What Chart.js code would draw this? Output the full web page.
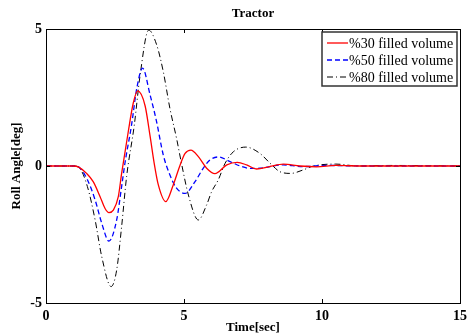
<!DOCTYPE html>
<html>
<head>
<meta charset="utf-8">
<title>Tractor</title>
<script src="https://cdn.jsdelivr.net/npm/chart.js"></script>
<style>
  html, body { margin: 0; padding: 0; background: #fff; }
  #wrap { width: 473px; height: 336px; }
</style>
</head>
<body>
<div id="wrap"><canvas id="c" width="473" height="336"></canvas></div>
<script>
// values (time in sec, roll angle in deg)
var seriesNames = ['%30 filled volume', '%50 filled volume', '%80 filled volume'];

var t30 = [0, 1.0, 1.2, 1.47, 1.71, 1.96, 2.14, 2.28, 2.44, 2.62, 2.74, 2.98, 3.16, 3.32, 3.59, 3.77, 3.93, 4.07, 4.34, 4.61, 4.86, 5.04, 5.25, 5.52, 5.82, 6.12, 6.55, 6.93, 7.27, 7.63, 8.1, 8.6, 9.2, 9.8, 10.5, 11.5, 15];
var y30 = [0, 0, -0.05, -0.27, -0.57, -1.12, -1.55, -1.70, -1.61, -1.12, -0.27, 1.25, 2.29, 2.74, 2.2, 1.1, 0.04, -0.69, -1.30, -0.69, 0.04, 0.46, 0.58, 0.34, -0.08, -0.28, 0.04, 0.13, 0.04, -0.11, -0.02, 0.07, 0.0, -0.03, 0.02, 0, 0];

var t50 = [0, 1.0, 1.2, 1.5, 1.78, 2.02, 2.28, 2.56, 2.74, 2.86, 3.10, 3.29, 3.50, 3.77, 4.0, 4.25, 4.49, 4.73, 5.04, 5.40, 5.70, 5.94, 6.24, 6.67, 7.03, 7.4, 7.75, 8.6, 9.3, 10.2, 11.5, 15];
var y50 = [0, 0, -0.05, -0.5, -1.24, -2.09, -2.74, -1.97, -0.75, 0.1, 1.5, 2.84, 3.57, 2.6, 1.65, 0.4, -0.33, -0.81, -1.0, -0.57, -0.08, 0.22, 0.33, 0.16, 0.0, -0.09, -0.08, 0.04, -0.02, 0.02, 0, 0];

var t80 = [0, 1.0, 1.2, 1.5, 1.78, 2.02, 2.36, 2.56, 2.74, 2.92, 3.20, 3.41, 3.72, 4.01, 4.25, 4.49, 4.73, 4.92, 5.16, 5.52, 5.82, 6.0, 6.24, 6.49, 6.79, 7.24, 7.75, 8.12, 8.48, 8.87, 9.3, 9.69, 10.5, 11.3, 12.5, 15];
var y80 = [0, 0, -0.06, -0.75, -1.97, -3.31, -4.40, -3.80, -2.21, -0.39, 1.5, 3.32, 4.96, 4.42, 3.44, 2.1, 1.01, 0.04, -1.06, -1.97, -1.42, -0.94, -0.51, 0.1, 0.52, 0.69, 0.46, 0.1, -0.21, -0.27, -0.15, 0.0, 0.07, 0.0, 0.02, 0];

var xTicks = [0, 5, 10, 15];
var yTicks = [-5, 0, 5];

function pts(ts, ys) {
    return ts.map(function (t, i) { return { x: t, y: ys[i] }; });
}

var serif = '"Liberation Serif", "Times New Roman", serif';

// box, inward ticks, title and legend, drawn the MATLAB way
var framePlugin = {
    id: 'frame',
    afterDraw: function (chart) {
        var ctx = chart.ctx;
        var a = chart.chartArea;
        var xs = chart.scales.x, ys = chart.scales.y;
        ctx.save();
        ctx.strokeStyle = '#000';
        ctx.lineWidth = 1;
        ctx.strokeRect(Math.round(a.left) + 0.5, Math.round(a.top) + 0.5,
                       Math.round(a.right - a.left), Math.round(a.bottom - a.top));
        ctx.beginPath();
        xTicks.forEach(function (v) {
            var px = Math.round(xs.getPixelForValue(v)) + 0.5;
            ctx.moveTo(px, a.bottom); ctx.lineTo(px, a.bottom - 4);
            ctx.moveTo(px, a.top); ctx.lineTo(px, a.top + 4);
        });
        yTicks.forEach(function (v) {
            var py = Math.round(ys.getPixelForValue(v)) + 0.5;
            ctx.moveTo(a.left, py); ctx.lineTo(a.left + 4, py);
            ctx.moveTo(a.right, py); ctx.lineTo(a.right - 4, py);
        });
        ctx.stroke();

        // title
        ctx.fillStyle = '#000';
        ctx.font = 'bold 13px ' + serif;
        ctx.textAlign = 'center';
        ctx.textBaseline = 'middle';
        ctx.fillText('Tractor', (a.left + a.right) / 2, 14);

        // legend
        var bx = 322, by = 32, bw = 135, bh = 54;
        ctx.fillStyle = '#fff';
        ctx.fillRect(bx, by, bw, bh);
        ctx.strokeStyle = '#333';
        ctx.lineWidth = 1.5;
        ctx.strokeRect(bx, by, bw, bh);
        ctx.font = '14px ' + serif;
        ctx.textAlign = 'left';
        chart.data.datasets.forEach(function (ds, i) {
            var ly = 43 + i * 17;
            ctx.strokeStyle = ds.borderColor;
            ctx.lineWidth = ds.borderWidth;
            ctx.setLineDash(ds.borderDash || []);
            ctx.beginPath();
            ctx.moveTo(327, ly); ctx.lineTo(348, ly);
            ctx.stroke();
            ctx.setLineDash([]);
            ctx.fillStyle = '#000';
            ctx.fillText(ds.label, 349, ly + 1);
        });
        ctx.restore();
    }
};

new Chart(document.getElementById('c'), {
    type: 'line',
    data: {
        datasets: [
            { label: seriesNames[0], data: pts(t30, y30), borderColor: '#ff0000', borderWidth: 1.3, borderDash: [] },
            { label: seriesNames[1], data: pts(t50, y50), borderColor: '#0000ff', borderWidth: 1.3, borderDash: [5, 3] },
            { label: seriesNames[2], data: pts(t80, y80), borderColor: '#000000', borderWidth: 1, borderDash: [6, 3, 1, 3] }
        ]
    },
    options: {
        responsive: false,
        animation: false,
        devicePixelRatio: 1,
        layout: { padding: { top: 29, right: 13, left: 0, bottom: 0 } },
        elements: {
            point: { radius: 0 },
            line: { cubicInterpolationMode: 'monotone', fill: false }
        },
        plugins: {
            legend: { display: false },
            title: { display: false },
            tooltip: { enabled: false }
        },
        scales: {
            x: {
                type: 'linear',
                min: 0, max: 15,
                grid: { display: false, drawTicks: false },
                border: { display: false },
                afterBuildTicks: function (s) { s.ticks = xTicks.map(function (v) { return { value: v }; }); },
                afterFit: function (s) { s.height = 33; },
                ticks: { color: '#000', padding: 5, maxRotation: 0, font: { family: serif, size: 14, weight: 'bold' } },
                title: { display: true, text: 'Time[sec]', color: '#000', padding: { top: 0, bottom: 1 },
                         font: { family: serif, size: 13, weight: 'bold' } }
            },
            y: {
                min: -5, max: 5,
                grid: { display: false, drawTicks: false },
                border: { display: false },
                afterBuildTicks: function (s) { s.ticks = yTicks.map(function (v) { return { value: v }; }); },
                afterFit: function (s) { s.width = 46; },
                ticks: { color: '#000', padding: 4, font: { family: serif, size: 14, weight: 'bold' } },
                title: { display: true, text: 'Roll Angle[deg]', color: '#000', padding: { top: 9, bottom: 0 },
                         font: { family: serif, size: 13, weight: 'bold' } }
            }
        }
    },
    plugins: [framePlugin]
});
</script>
</body>
</html>
